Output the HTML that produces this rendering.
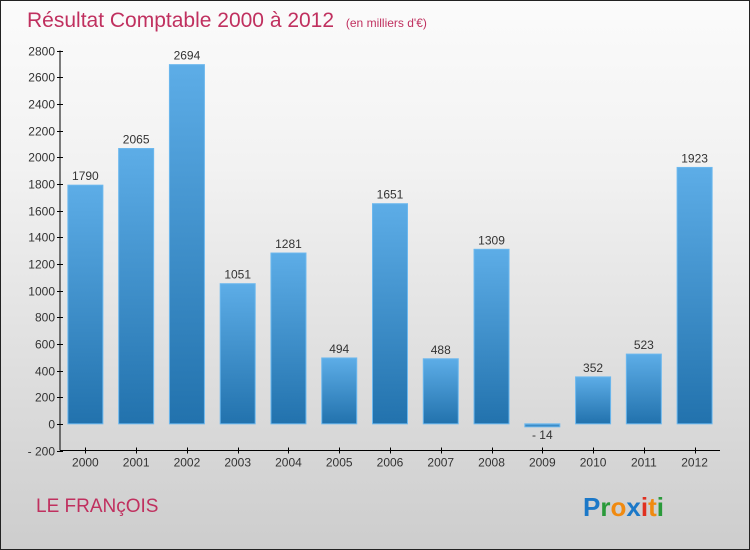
<!DOCTYPE html>
<html><head><meta charset="utf-8"><style>
html,body{margin:0;padding:0}
body{width:750px;height:550px;overflow:hidden;font-family:"Liberation Sans",sans-serif}
#wrap{position:absolute;left:0;top:0;width:748px;height:548px;border:1px solid #222;background:linear-gradient(#fbfbfb,#f2f2f2 30%,#cdcdcd)}
</style></head><body>
<div id="wrap">
<svg id="chart" width="750" height="550" style="position:absolute;left:-1px;top:-1px">
<defs><linearGradient id="bg" x1="0" y1="0" x2="0" y2="1"><stop offset="0" stop-color="#5dade7"/><stop offset="1" stop-color="#2272ad"/></linearGradient></defs>
<text x="27" y="27" font-size="21" fill="#c0305f">Résultat Comptable 2000 à 2012 <tspan font-size="12" dx="6">(en milliers d'€)</tspan></text>
<text x="36" y="512" font-size="19" fill="#c0305f">LE FRANçOIS</text>
<g font-size="26" font-weight="bold">
<text x="583" y="516" fill="#1b78c8">P<tspan fill="#2a9a3a">r</tspan><tspan fill="#f08a10">o</tspan><tspan fill="#1b78c8">x</tspan><tspan fill="#e03020">i</tspan><tspan fill="#f08a10">t</tspan><tspan fill="#2a9a3a">i</tspan></text></g>
<g id="g"></g>
</svg></div>
<script>
const years=["2000","2001","2002","2003","2004","2005","2006","2007","2008","2009","2010","2011","2012"];
const values=[1790,2065,2694,1051,1281,494,1651,488,1309,-14,352,523,1923];
const yTicks=[-200,0,200,400,600,800,1000,1200,1400,1600,1800,2000,2200,2400,2600,2800];
const NS="http://www.w3.org/2000/svg";
const g=document.getElementById('g');
const x0=60,x1=720,yMin=-200,yMax=2800,pTop=50.5,pBot=450.5;
const y=v=>pBot-(v-yMin)/(yMax-yMin)*(pBot-pTop);
const step=(x1-x0)/years.length;
const xc=i=>x0+step*(i+0.5);
function el(t,a,txt){const e=document.createElementNS(NS,t);for(const k in a)e.setAttribute(k,a[k]);if(txt!==undefined)e.textContent=txt;g.appendChild(e);return e;}
let ax=el('line',{x1:x0,y1:pTop,x2:x0,y2:pBot,stroke:'#000'});


let bx=el('line',{x1:x0,y1:pBot,x2:x1,y2:pBot,stroke:'#000'});


yTicks.forEach(t=>{
 const yy=Math.round(y(t))+0.5;
 el('line',{x1:x0-3,y1:yy,x2:x0+3,y2:yy,stroke:'#000'});
 const tx=el('text',{x:x0-5,y:yy+4,'font-size':12,fill:'#333','text-anchor':'end'},t<0?'- '+(-t):String(t));
 
 
});
years.forEach((yr,i)=>{
 const c=xc(i),v=values[i],bw=35;
 el('line',{x1:Math.round(c)+0.5,y1:pBot-3,x2:Math.round(c)+0.5,y2:pBot+3,stroke:'#000'});
 const lt=el('text',{x:c,y:pBot+16,'font-size':12,fill:'#333','text-anchor':'middle'},yr);
 
 
 const top=Math.min(y(v),y(0)),h=Math.max(Math.abs(y(v)-y(0)),3);
 const r=el('rect',{x:c-bw/2,y:top,width:bw,height:h,fill:'url(#bg)',stroke:'#6cb8ee','stroke-width':1});
 
 
 const ly=v>=0?y(v)-5:y(0)+h+12;
 const vt=el('text',{x:c,y:ly,'font-size':12,fill:'#333','text-anchor':'middle'},v<0?'- '+(-v):String(v));
 
 
});
</script>
</body></html>
